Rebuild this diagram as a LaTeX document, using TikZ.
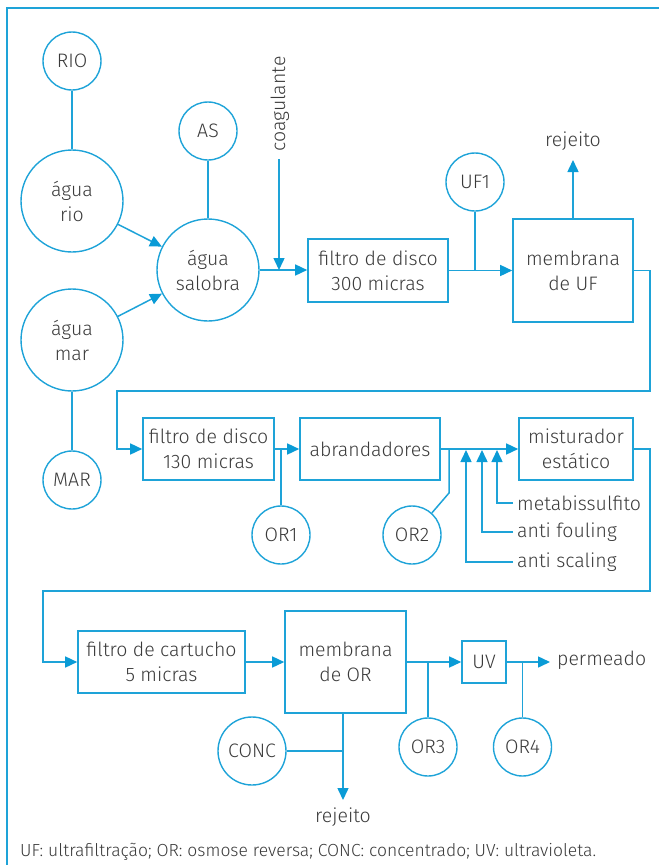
\documentclass[tikz,border=0pt]{standalone}
\usepackage{fontspec}
\IfFontExistsTF{Fira Sans Light}{\setmainfont{Fira Sans Light}}{\setmainfont{Fira Sans}}
\usetikzlibrary{arrows.meta,calc}
\definecolor{ln}{HTML}{1EA3D8}
\definecolor{ah}{HTML}{0A9BD6}
\definecolor{tx}{HTML}{3A3A3A}
\tikzset{
  lbl/.style={text=tx,font=\fontsize{19.5}{25}\selectfont,align=center,inner sep=0pt},
  circ/.style={lbl,draw=ln,line width=1.4pt,circle,minimum size=58pt},
  bigcirc/.style={lbl,draw=ln,line width=1.4pt,circle,minimum size=102pt},
  boxnode/.style={lbl,draw=ln,line width=1.6pt,rectangle},
  con/.style={draw=ln,line width=1.5pt},
  arr/.style={con,-{Triangle[length=12pt,width=11pt,color=ah]}},
}
\begin{document}
\begin{tikzpicture}[x=1pt,y=-1pt]
\useasboundingbox (0,0) rectangle (659,865);
\draw[draw=ln,line width=2pt] (7,865) -- (7,8) -- (659,8);
% circles
\node[circ] (RIO) at (72,61) {RIO};
\node[circ] (AS) at (208,131) {AS};
\node[circ] (UF1) at (475,182) {UF1};
\node[circ] (MAR) at (72,480) {MAR};
\node[circ] (OR1) at (281,535) {OR1};
\node[circ] (OR2) at (412,535) {OR2};
\node[circ] (OR3) at (428,747) {OR3};
\node[circ] (OR4) at (522.5,747) {OR4};
\node[circ,minimum size=68pt] (CONC) at (252,751) {CONC};
\node[bigcirc] (ario) at (72,201) {água\\rio};
\node[bigcirc] (asal) at (208,270) {água\\salobra};
\node[bigcirc] (amar) at (72,340) {água\\mar};
% boxes
\node[boxnode,minimum width=140pt,minimum height=63pt] (f300) at (378,270.5) {filtro de disco\\300 micras};
\node[boxnode,minimum width=120pt,minimum height=103pt] (mUF) at (573,270.5) {membrana\\de UF};
\node[boxnode,minimum width=131pt,minimum height=62pt] (f130) at (208.5,449) {filtro de disco\\130 micras};
\node[boxnode,minimum width=140pt,minimum height=62pt] (abr) at (370,449) {abrandadores};
\node[boxnode,minimum width=114pt,minimum height=62pt] (mist) at (576,449) {misturador\\estático};
\node[boxnode,minimum width=167pt,minimum height=62pt] (fcart) at (161.5,662) {filtro de cartucho\\5 micras};
\node[boxnode,minimum width=121pt,minimum height=102pt] (mOR) at (345.5,662) {membrana\\de OR};
\node[boxnode,minimum width=44pt,minimum height=42pt] (uv) at (484,662) {UV};
% texts
\node[lbl,rotate=90] (coag) at (280,104) {coagulante};
\node[lbl] (rej1) at (573,141) {rejeito};
\node[lbl] (rej2) at (343,817) {rejeito};
\node[lbl,anchor=west] (perm) at (557,660) {permeado};
\node[lbl,anchor=west] (met) at (517,503) {metabissulfito};
\node[lbl,anchor=west] (foul) at (517,532) {anti fouling};
\node[lbl,anchor=west] (scal) at (517,562) {anti scaling};
\node[lbl,anchor=west,font=\fontsize{17.5}{20}\selectfont] (cap) at (20,852) {UF: ultrafiltração; OR: osmose reversa; CONC: concentrado; UV: ultravioleta.};
% coordinates
\coordinate (coagtop) at (279,159);
\coordinate (rej1end) at (573,160);
\coordinate (r1) at (650,391);
\coordinate (r2) at (117,449);
\coordinate (s1) at (650,591);
\coordinate (s2) at (43,662);
\coordinate (or2k) at (449,493);
\coordinate (ch1) at (466,450);
\coordinate (ch2) at (482,450);
\coordinate (ch3) at (497,450);
\coordinate (permend) at (550,662);
\coordinate (rej2end) at (343,800);
% connectors
\draw[con] (RIO) -- (ario);
\draw[con] (AS) -- (asal);
\draw[con] (MAR) -- (amar);
\draw[arr] (ario) -- (asal);
\draw[arr] (amar) -- (asal);
\draw[arr] (asal.east) -- (asal.east -| f300.west);
\draw[arr] (coagtop) -- (coagtop |- asal.east);
\draw[con] (UF1) -- (UF1 |- f300.east);
\draw[arr] (f300.east) -- (f300.east -| mUF.west);
\draw[arr] (mUF.north) -- (rej1end);
\draw[arr] (mUF.east) -| (r1) -| (r2) -- (f130.west);
\draw[arr] (f130.east) -- (abr.west);
\draw[con] (OR1) -- (OR1 |- f130.east);
\draw[arr] (abr.east) -- (mist.west);
\draw[con] (OR2.48) -- (or2k) -- (or2k |- abr.east);
\draw[arr] ([xshift=-4pt]scal.west) -| (ch1);
\draw[arr] ([xshift=-4pt]foul.west) -| (ch2);
\draw[arr] ([xshift=-4pt]met.west) -| (ch3);
\draw[arr] (mist.east) -| (s1) -| (s2) -- (fcart.west);
\draw[arr] (fcart.east) -- (mOR.west);
\draw[arr] (mOR.east) -- (uv.west);
\draw[con] (OR3) -- (OR3 |- mOR.east);
\draw[arr] (uv.east) -- (permend);
\draw[con] (OR4) -- (OR4 |- uv.east);
\draw[arr] ([xshift=-2.5pt]mOR.south) -- (rej2end);
\draw[con] (CONC.east) -- (CONC.east -| rej2end);
\end{tikzpicture}
\end{document}
